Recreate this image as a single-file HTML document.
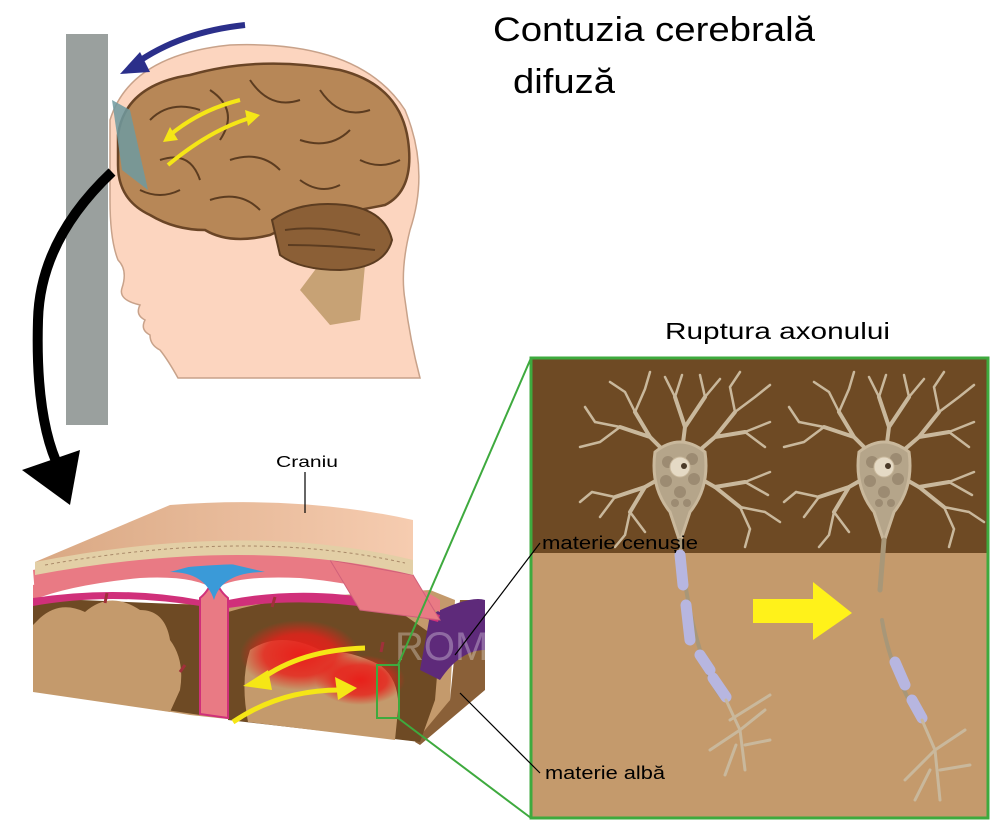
<!DOCTYPE html>
<html><head><meta charset="utf-8"><style>
html,body{margin:0;padding:0;background:#fff}
svg{display:block}
text{font-family:"Liberation Sans","DejaVu Sans",sans-serif}
</style></head><body>
<svg width="1000" height="833" viewBox="0 0 1000 833" xmlns="http://www.w3.org/2000/svg">
<defs>
<radialGradient id="red" cx="0.5" cy="0.5" r="0.5"><stop offset="0" stop-color="#e8201a"/><stop offset="0.6" stop-color="#e8201a" stop-opacity="0.8"/><stop offset="1" stop-color="#e8201a" stop-opacity="0"/></radialGradient>
<linearGradient id="skull" x1="0" y1="0" x2="1" y2="0"><stop offset="0" stop-color="#d9a883"/><stop offset="1" stop-color="#f6ccb0"/></linearGradient>
<g id="neuron" stroke="#c9b89c" fill="none" stroke-linecap="round">
 <g stroke-width="4">
  <path d="M0,0 L-30,-30 L-45,-55 M-30,-30 L-60,-40 M0,0 L5,-40 L-5,-70 M5,-40 L25,-70 M0,0 L35,-30 L55,-55 M35,-30 L65,-35 M0,0 L-35,20 L-65,30 M-35,20 L-50,45 M0,0 L35,20 L60,40 M35,20 L65,15"/>
 </g>
 <g stroke-width="2.5">
  <path d="M-45,-55 L-55,-75 M-45,-55 L-35,-78 M-60,-40 L-85,-45 M-60,-40 L-80,-25 M-5,-70 L-15,-90 M-5,-70 L2,-92 M25,-70 L20,-92 M25,-70 L40,-88 M55,-55 L50,-80 M55,-55 L75,-70 M65,-35 L90,-45 M65,-35 L85,-20 M-65,30 L-88,25 M-65,30 L-80,50 M-50,45 L-55,68 M-50,45 L-35,65 M60,40 L70,62 M60,40 L85,45 M65,15 L90,5 M65,15 L88,28 M-55,-75 L-70,-85 M-35,-78 L-30,-95 M-85,-45 L-95,-60 M-80,-25 L-100,-20 M50,-80 L60,-95 M75,-70 L90,-82 M-88,25 L-100,35 M-55,68 L-65,80 M70,62 L65,80 M85,45 L100,55"/>
 </g>
 <path d="M-25,-15 Q0,-35 25,-15 Q30,20 10,45 L0,75 L-10,45 Q-30,20 -25,-15Z" fill="#b5a58a" stroke="#c9b89c" stroke-width="3"/>
 <g fill="#9c8b72" stroke="none"><circle cx="-12" cy="-5" r="6"/><circle cx="12" cy="-8" r="6"/><circle cx="-14" cy="14" r="6"/><circle cx="14" cy="12" r="6"/><circle cx="0" cy="25" r="6"/><circle cx="-5" cy="36" r="4"/><circle cx="7" cy="36" r="4"/></g>
 <circle cx="0" cy="0" r="10" fill="#e5dac5" stroke="#c9b89c"/><circle cx="4" cy="-1" r="3" fill="#4a3a28" stroke="none"/>
</g>
</defs>

<rect x="66" y="34" width="42" height="391" fill="#9aa09e"/>

<path d="M110,120 Q130,55 230,45 Q360,40 405,110 Q430,170 410,230 Q400,270 405,300 Q410,340 420,378 L178,378 Q168,360 160,350 Q150,345 150,335 Q140,330 145,320 Q135,315 140,305 Q118,300 122,288 Q128,270 118,260 Q110,240 110,200 Z" fill="#fcd5bf" stroke="#c8a28a" stroke-width="1.5"/>
<path d="M300,290 L330,250 L365,265 L360,320 L330,325 Z" fill="#c7a275"/>
<path d="M118,135 Q125,85 190,75 Q260,55 340,70 Q400,85 408,140 Q415,190 385,205 Q360,210 330,215 Q300,220 270,235 Q230,245 205,230 Q175,230 150,215 Q118,200 118,165 Z" fill="#b78757" stroke="#6a4526" stroke-width="2.5"/>
<path d="M272,220 Q300,200 345,205 Q385,210 392,240 Q385,268 340,270 Q300,270 280,255 Z" fill="#8b5f36" stroke="#5c3c20" stroke-width="2"/>
<g stroke="#5c3c20" stroke-width="2" fill="none">
<path d="M150,120 Q170,100 200,110 M210,90 Q240,110 220,140 M250,80 Q270,110 300,100 M320,90 Q340,120 370,110 M160,160 Q190,150 200,180 M230,160 Q260,150 280,170 M300,140 Q330,150 350,130 M360,160 Q380,170 400,160 M210,200 Q240,190 260,210 M300,180 Q320,195 340,185 M285,230 Q320,225 360,235 M288,245 Q330,245 375,250 M140,190 Q160,200 180,190"/>
</g>
<path d="M112,100 L130,110 L148,190 L122,170 Z" fill="#6f9aa0" opacity="0.85"/>
<path d="M168,165 Q210,130 250,118" stroke="#f5e616" stroke-width="4" fill="none"/>
<path d="M260,115 L245,110 L248,126 Z" fill="#f5e616"/>
<path d="M240,100 Q200,110 170,135" stroke="#f5e616" stroke-width="4" fill="none"/>
<path d="M163,142 L178,140 L170,127 Z" fill="#f5e616"/>
<path d="M245,25 Q180,32 135,64" stroke="#2b2f8a" stroke-width="6" fill="none"/>
<path d="M120,74 L140,52 L150,72 Z" fill="#2b2f8a"/>
<path d="M112,172 Q40,240 38,320 Q35,420 60,470" stroke="#000" stroke-width="10" fill="none"/>
<path d="M22,470 L80,450 L70,505 Z" fill="#000"/>

<text x="493" y="41" font-size="34" textLength="322" lengthAdjust="spacingAndGlyphs" fill="#000">Contuzia cerebrală</text>
<text x="513" y="93" font-size="34" textLength="102" lengthAdjust="spacingAndGlyphs" fill="#000">difuză</text>
<text x="665" y="339" font-size="23" textLength="225" lengthAdjust="spacingAndGlyphs" fill="#000">Ruptura axonului</text>

<!-- bottom block -->
<path d="M33,612 L33,690 L190,715 L330,730 L420,742 L450,700 L455,600 L430,590 Z" fill="#c49a6c"/>
<path d="M415,742 L450,700 L460,600 L485,600 L485,690 L420,745 Z" fill="#8a6038"/>
<path d="M33,598 L200,605 L200,715 L33,690 Z" fill="#6e4a24"/>
<path d="M40,618 Q60,600 85,612 Q110,590 140,610 Q165,610 170,640 Q185,660 180,690 L170,712 L33,692 L33,625 Z" fill="#c49a6c"/>
<path d="M228,612 Q300,590 390,605 L440,640 L435,700 L420,742 L228,720 Z" fill="#6e4a24"/>
<path d="M250,650 Q280,630 320,650 Q350,650 380,665 Q400,680 398,710 L395,740 L248,722 Q240,680 250,650Z" fill="#c49a6c"/>
<path d="M430,615 Q470,595 485,600 L485,650 Q460,650 440,680 L420,670 Z" fill="#5e2a7a"/>
<ellipse cx="300" cy="655" rx="60" ry="35" fill="url(#red)"/>
<ellipse cx="360" cy="680" rx="45" ry="25" fill="url(#red)"/>
<!-- membranes -->
<path d="M33,585 Q200,540 330,560 Q400,575 440,600 L440,612 Q380,585 300,578 Q230,575 215,590 Q195,575 140,578 Q70,585 33,600 Z" fill="#e97a84"/>
<path d="M33,598 Q120,585 200,600 L200,606 Q110,592 33,606 Z M228,600 Q330,580 440,615 L438,622 Q330,592 228,608 Z" fill="#d0307a"/>
<!-- falx -->
<path d="M200,598 Q210,590 214,575 Q218,590 228,598 L228,718 L200,714 Z" fill="#e97a84" stroke="#d0307a" stroke-width="2"/>
<path d="M170,572 Q205,572 214,600 Q222,572 265,572 L214,560 Z" fill="#3a9ad8"/>
<!-- skull -->
<path d="M33,570 L35,595 Q200,550 350,570 L413,595 L413,560 Q250,520 33,570Z" fill="#e97a84"/>
<path d="M330,560 L413,575 L440,620 L360,610 Z" fill="#e97a84" stroke="#d0607a"/>
<path d="M35,562 L170,505 Q300,495 413,520 L413,565 Q250,525 35,575 Z" fill="url(#skull)"/>
<path d="M35,562 Q250,520 413,560 L413,575 Q250,535 35,575 Z" fill="#e3cfa6"/>
<path d="M45,565 Q250,528 405,563" stroke="#a88868" stroke-width="1" stroke-dasharray="3,3" fill="none"/>
<g stroke="#a0303a" stroke-width="3"><line x1="107" y1="593" x2="105" y2="603"/><line x1="185" y1="665" x2="180" y2="672"/><line x1="275" y1="597" x2="272" y2="607"/><line x1="383" y1="642" x2="381" y2="652"/></g>
<path d="M365,648 Q300,650 260,680" stroke="#f5e616" stroke-width="5" fill="none"/>
<path d="M243,686 L268,670 L272,690 Z" fill="#f5e616"/>
<path d="M233,722 Q280,690 340,690" stroke="#f5e616" stroke-width="5" fill="none"/>
<path d="M357,688 L335,677 L338,700 Z" fill="#f5e616"/>

<text x="395" y="660" font-size="40" fill="#ffffff" opacity="0.3" font-family="Liberation Serif">ROMEDIC</text>

<!-- right panel -->
<rect x="531" y="358" width="457" height="195" fill="#6e4a24"/>
<rect x="531" y="553" width="457" height="265" fill="#c49a6c"/>
<rect x="531" y="358" width="457" height="460" fill="none" stroke="#3eaa3e" stroke-width="3"/>
<use href="#neuron" x="680" y="467"/>
<use href="#neuron" x="884" y="467"/>
<g fill="none" stroke-linecap="round">
<path d="M680,540 Q685,600 700,650 Q712,690 725,700" stroke="#a89778" stroke-width="4"/>
<path d="M680,555 L683,585 M686,605 L690,640 M700,655 L710,670 M713,678 L726,697" stroke="#b7b6e0" stroke-width="11"/>
<path d="M884,540 L880,590" stroke="#a89778" stroke-width="5"/>
<path d="M882,620 Q890,670 920,720" stroke="#a89778" stroke-width="4"/>
<path d="M895,662 L905,685 M912,700 L922,718" stroke="#b7b6e0" stroke-width="11"/>
<path d="M726,700 L740,730 L745,770 M740,730 L710,750 M740,730 L765,710 M745,745 L770,740 M736,745 L725,775 M730,720 L770,695" stroke="#c9b89c" stroke-width="3"/>
<path d="M922,720 L935,750 L940,800 M935,750 L905,780 M935,750 L965,730 M940,770 L970,765 M930,770 L915,800" stroke="#c9b89c" stroke-width="3"/>
</g>
<path d="M753,599 L813,599 L813,582 L852,613 L813,640 L813,623 L753,623 Z" fill="#fff21a"/>

<g stroke="#3eaa3e" stroke-width="2" fill="none">
<rect x="377" y="665" width="22" height="53"/>
<line x1="398" y1="665" x2="531" y2="358"/>
<line x1="398" y1="718" x2="531" y2="818"/>
</g>
<g stroke="#000" stroke-width="1.2">
<line x1="305" y1="472" x2="305" y2="513"/>
<line x1="455" y1="655" x2="540" y2="543"/>
<line x1="460" y1="693" x2="540" y2="773"/>
</g>
<text x="276" y="467" font-size="16" textLength="62" lengthAdjust="spacingAndGlyphs" fill="#000">Craniu</text>
<text x="542" y="549" font-size="18" textLength="156" lengthAdjust="spacingAndGlyphs" fill="#000">materie cenușie</text>
<text x="545" y="779" font-size="18" textLength="120" lengthAdjust="spacingAndGlyphs" fill="#000">materie albă</text>
</svg>
</body></html>
